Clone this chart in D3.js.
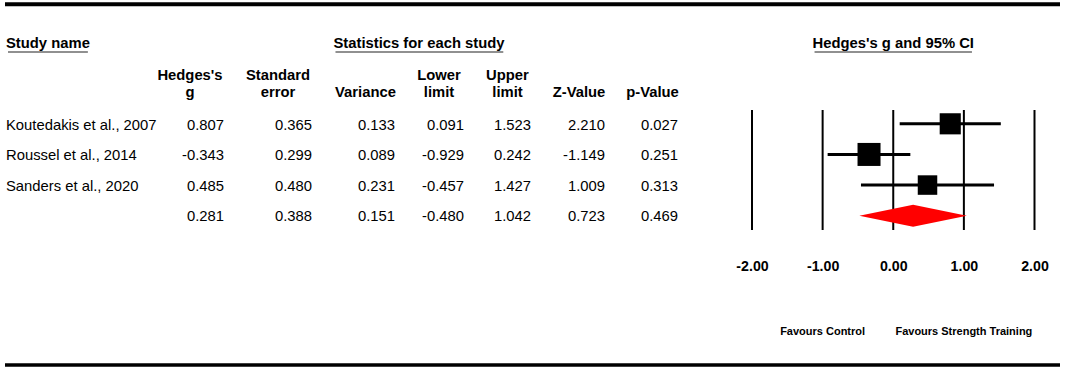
<!DOCTYPE html>
<html>
<head>
<meta charset="utf-8">
<script src="https://cdn.jsdelivr.net/npm/d3@7"></script>
<style>
  body { margin: 0; background: #fff; }
  svg { display: block; font-family: "Liberation Sans", Arial, sans-serif; }
</style>
</head>
<body>
<script>
// Data
const studies   = ["Koutedakis et al., 2007", "Roussel et al., 2014", "Sanders et al., 2020", ""];
const hedgesG   = [0.807, -0.343, 0.485, 0.281];
const stdError  = [0.365, 0.299, 0.480, 0.388];
const variance  = [0.133, 0.089, 0.231, 0.151];
const lowerLim  = [0.091, -0.929, -0.457, -0.480];
const upperLim  = [1.523, 0.242, 1.427, 1.042];
const zValue    = [2.210, -1.149, 1.009, 0.723];
const pValue    = [0.027, 0.251, 0.313, 0.469];
const axisTicks = [-2, -1, 0, 1, 2];

const columnHeaders = [
  ["Hedges's", "g"], ["Standard", "error"], ["Variance"],
  ["Lower", "limit"], ["Upper", "limit"], ["Z-Value"], ["p-Value"]
];
const columnValues = [hedgesG, stdError, variance, lowerLim, upperLim, zValue, pValue];

// The last row is the summary (diamond), the others are studies
const rows = studies.map((name, i) => ({
  name, g: hedgesG[i], lo: lowerLim[i], hi: upperLim[i],
  weight: 1 / variance[i], summary: i === studies.length - 1
}));

const outerWidth = 1065;
const outerHeight = 368;
const bodySize = 14.8;

// Layout of the table columns (header centre and right edge of the numbers)
const colCenter = [190, 278, 365.5, 439, 507.5, 579, 652.5];
const colRight  = [224, 312, 395, 464, 531, 605, 678];

const svg = d3.select("body")
  .append("svg")
  .attr("width", outerWidth)
  .attr("height", outerHeight)
  .attr("viewBox", `0 0 ${outerWidth} ${outerHeight}`);

svg.append("rect").attr("width", outerWidth).attr("height", outerHeight).attr("fill", "#fff");

// Scales
const x = d3.scaleLinear()
  .domain([-2, 2])
  .range([752, 1034.5]);

const y = d3.scaleBand()
  .domain(d3.range(rows.length))
  .range([108.5, 231]);

const cy = i => y(i) + y.bandwidth() / 2;

const studyRows = rows.filter(d => !d.summary);
const boxSize = d3.scaleLinear()
  .domain(d3.extent(studyRows, d => d.weight))
  .range([19.5, 23]);

// Thick rules at top and bottom
svg.append("line")
  .attr("x1", 5).attr("x2", 1060)
  .attr("y1", 4.3).attr("y2", 4.3)
  .attr("stroke", "#000").attr("stroke-width", 4);

svg.append("line")
  .attr("x1", 5).attr("x2", 1060)
  .attr("y1", 365).attr("y2", 365)
  .attr("stroke", "#000").attr("stroke-width", 3.5);

// Underlined section headings
function heading(text, xPos, anchor)
{
  const t = svg.append("text")
    .attr("x", xPos)
    .attr("y", 47.5)
    .attr("text-anchor", anchor)
    .attr("font-size", 14.8)
    .attr("font-weight", "bold")
    .text(text);

  const box = t.node().getBBox();
  svg.append("line")
    .attr("x1", box.x + 2).attr("x2", box.x + box.width - 2)
    .attr("y1", 52).attr("y2", 52)
    .attr("stroke", "#222").attr("stroke-width", 1.2);
}

heading("Study name", 6, "start");
heading("Statistics for each study", 419, "middle");
heading("Hedges's g and 95% CI", x(0), "middle");

// Column headers, one or two lines
const headerG = svg.append("g")
  .attr("font-size", 14.8)
  .attr("font-weight", "bold")
  .attr("text-anchor", "middle");

columnHeaders.forEach((lines, c) =>
{
  lines.forEach((line, k) =>
  {
    headerG.append("text")
      .attr("x", colCenter[c])
      .attr("y", 97 - (lines.length - 1 - k) * 17)
      .text(line);
  });
});

// Study names
svg.append("g")
  .attr("font-size", bodySize)
  .selectAll("text")
  .data(rows)
  .join("text")
  .attr("x", 6)
  .attr("y", (d, i) => cy(i) + 5.8)
  .text(d => d.name);

// Numbers of each column, right aligned
const fmt = v => v.toFixed(3);

columnValues.forEach((values, c) =>
{
  svg.append("g")
    .attr("font-size", bodySize)
    .attr("text-anchor", "end")
    .selectAll("text")
    .data(values)
    .join("text")
    .attr("x", colRight[c])
    .attr("y", (d, i) => cy(i) + 5.8)
    .text(fmt);
});

// Vertical reference lines of the plot
svg.append("g")
  .selectAll("line")
  .data(axisTicks)
  .join("line")
  .attr("x1", d => x(d)).attr("x2", d => x(d))
  .attr("y1", 110).attr("y2", 230)
  .attr("stroke", "#000")
  .attr("stroke-width", 2);

// Confidence intervals
svg.append("g")
  .selectAll("line")
  .data(studyRows)
  .join("line")
  .attr("x1", d => x(d.lo))
  .attr("x2", d => x(d.hi))
  .attr("y1", (d, i) => cy(i)).attr("y2", (d, i) => cy(i))
  .attr("stroke", "#000")
  .attr("stroke-width", 3);

// Squares sized by study weight
svg.append("g")
  .selectAll("rect")
  .data(studyRows)
  .join("rect")
  .attr("x", d => x(d.g) - boxSize(d.weight) / 2)
  .attr("y", (d, i) => cy(i) - boxSize(d.weight) / 2)
  .attr("width", d => boxSize(d.weight))
  .attr("height", d => boxSize(d.weight))
  .attr("fill", "#000");

// Summary diamond
const summaryIndex = rows.length - 1;
const s = rows[summaryIndex];
const sy = cy(summaryIndex);
svg.append("path")
  .attr("d", `M${x(s.lo)},${sy}L${x(s.g)},${sy - 11}L${x(s.hi)},${sy}L${x(s.g)},${sy + 11}Z`)
  .attr("fill", "#ff0000");

// Axis labels under the plot
const axis = svg.append("g")
  .attr("transform", "translate(0,261)")
  .call(d3.axisBottom(x).tickValues(axisTicks).tickSize(0).tickPadding(0).tickFormat(d => d.toFixed(2)));

axis.select(".domain").remove();
axis.selectAll("text")
  .attr("font-family", "Liberation Sans, Arial, sans-serif")
  .attr("font-size", 14.2)
  .attr("font-weight", "bold")
  .attr("fill", "#000");

// Direction labels
svg.append("g")
  .attr("font-size", 11)
  .attr("font-weight", "bold")
  .attr("text-anchor", "middle")
  .selectAll("text")
  .data([[-1, "Favours Control"], [1, "Favours Strength Training"]])
  .join("text")
  .attr("x", d => x(d[0]))
  .attr("y", 335)
  .text(d => d[1]);
</script>
</body>
</html>
